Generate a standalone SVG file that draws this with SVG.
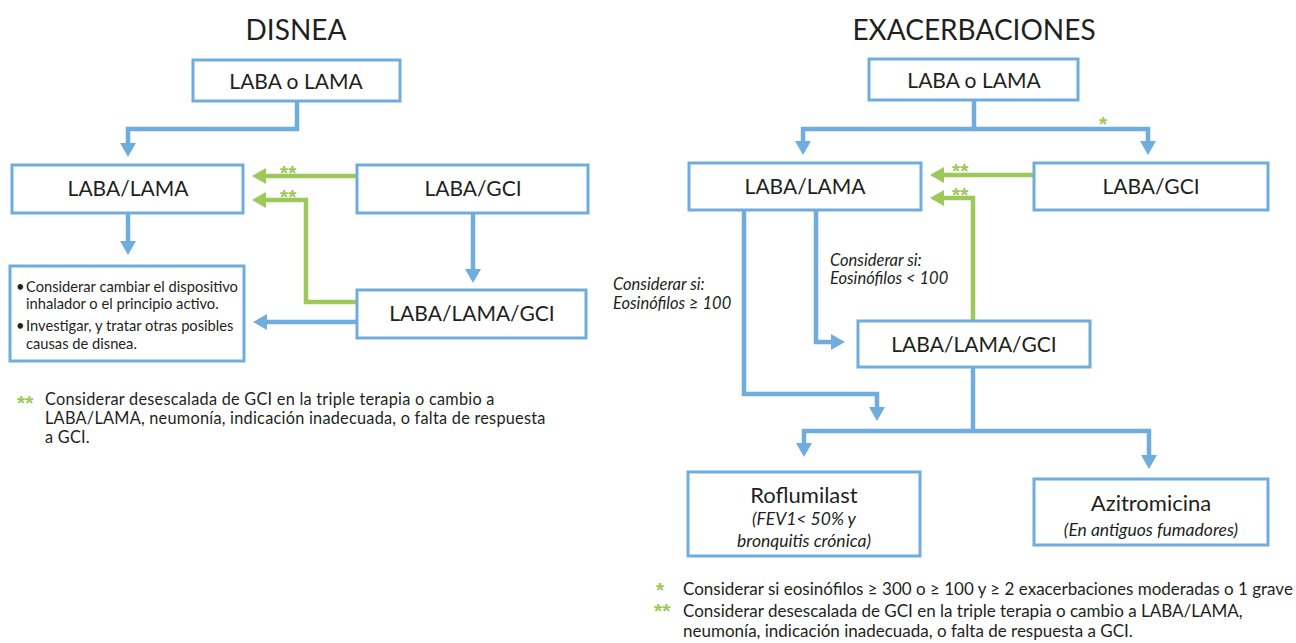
<svg xmlns="http://www.w3.org/2000/svg" width="1296" height="643" viewBox="0 0 1296 643">
<defs>
<style>
.box{fill:#fff;stroke:#6fadde;stroke-width:3}
.t{font-family:Lato,"Noto Sans","Liberation Sans",sans-serif;fill:#231f20}
.big{font-size:21px;text-anchor:middle}
.big2{font-size:22px;text-anchor:middle}
.title{font-size:28px;text-anchor:middle}
.it{font-style:italic;font-size:16.5px}
.it2{font-style:italic;font-size:17.5px;text-anchor:middle}
.sm{font-size:14.7px}
.fn{font-size:17px}
.fn2{font-size:16.3px;letter-spacing:0.25px}
.star{font-family:"Liberation Sans",Arial,sans-serif;font-weight:bold;fill:#9dc85a;font-size:21px}
.bl{fill:none;stroke:#6fadde;stroke-width:4.5}
.gr{fill:none;stroke:#9dc85a;stroke-width:4.5}
.ab{marker-end:url(#mb)}
.ag{marker-end:url(#mg)}
</style>
<marker id="mb" viewBox="0 0 14 16" refX="2" refY="8" markerWidth="14" markerHeight="16" markerUnits="userSpaceOnUse" orient="auto"><path d="M0,0 L14,8 L0,16 z" fill="#6fadde"/></marker>
<marker id="mg" viewBox="0 0 14 16" refX="2" refY="8" markerWidth="14" markerHeight="16" markerUnits="userSpaceOnUse" orient="auto"><path d="M0,0 L14,8 L0,16 z" fill="#9dc85a"/></marker>
</defs>
<rect width="1296" height="643" fill="#fff"/>

<text class="t title" x="296" y="40">DISNEA</text>
<text class="t title" x="974" y="40">EXACERBACIONES</text>

<g id="connectors">
<polyline class="bl ab" points="297,101 297,129 128,129 128,145"/>
<polyline class="bl ab" points="128,213 128,243"/>
<polyline class="gr ag" points="357,176 264,176"/>
<polyline class="gr ag" points="357,302 306,302 306,200 264,200"/>
<polyline class="bl ab" points="473,213 473,271"/>
<polyline class="bl ab" points="357,322 265,322"/>
<text class="star" x="280" y="180">**</text>
<text class="star" x="280" y="204">**</text>

<polyline class="bl ab" points="974,100 974,129 803,129 803,143"/>
<polyline class="bl ab" points="974,129 1148,129 1148,143"/>
<polyline class="gr ag" points="1034,175 942,175"/>
<polyline class="gr ag" points="973,320 973,198 942,198"/>
<polyline class="bl ab" points="744,210 744,394 877,394 877,409"/>
<polyline class="bl ab" points="816,210 816,342 833,342"/>
<polyline class="bl" points="973,367 973,431"/>
<polyline class="bl ab" points="973,431 804,431 804,445"/>
<polyline class="bl ab" points="973,431 1149,431 1149,457"/>
<text class="star" x="1099" y="131">*</text>
<text class="star" x="952" y="178">**</text>
<text class="star" x="952" y="202">**</text>
<text class="t it" x="613" y="290">Considerar si:</text>
<text class="t it" x="613" y="309">Eosinófilos ≥ 100</text>
<text class="t it" x="830" y="266">Considerar si:</text>
<text class="t it" x="830" y="284">Eosinófilos &lt; 100</text>
</g>

<g id="d-laba-o-lama"><rect class="box" x="193" y="60" width="207" height="41"/><text class="t big" x="296" y="89">LABA o LAMA</text></g>
<g id="d-laba-lama"><rect class="box" x="12" y="165" width="231" height="48"/><text class="t big" x="128" y="196">LABA/LAMA</text></g>
<g id="d-laba-gci"><rect class="box" x="357" y="165" width="231" height="48"/><text class="t big" x="473" y="196">LABA/GCI</text></g>
<g id="d-triple"><rect class="box" x="357" y="290" width="229" height="48"/><text class="t big" x="472" y="321">LABA/LAMA/GCI</text></g>
<g id="d-actions"><rect class="box" x="10" y="266" width="234" height="95"/>
<text class="t sm" x="16" y="292">•</text><text class="t sm" x="26" y="292">Considerar cambiar el dispositivo</text>
<text class="t sm" x="26" y="309">inhalador o el principio activo.</text>
<text class="t sm" x="16" y="331">•</text><text class="t sm" x="26" y="331">Investigar, y tratar otras posibles</text>
<text class="t sm" x="26" y="349">causas de disnea.</text>
</g>
<g id="d-footnote">
<text class="star" x="17" y="410">**</text>
<text class="t fn2" x="45" y="405">Considerar desescalada de GCI en la triple terapia o cambio a</text>
<text class="t fn2" x="45" y="424">LABA/LAMA, neumonía, indicación inadecuada, o falta de respuesta</text>
<text class="t fn2" x="45" y="443">a GCI.</text>
</g>

<g id="e-laba-o-lama"><rect class="box" x="869" y="59" width="209" height="41"/><text class="t big" x="974" y="88">LABA o LAMA</text></g>
<g id="e-laba-lama"><rect class="box" x="689" y="163" width="232" height="47"/><text class="t big" x="805" y="194">LABA/LAMA</text></g>
<g id="e-laba-gci"><rect class="box" x="1034" y="163" width="234" height="47"/><text class="t big" x="1151" y="194">LABA/GCI</text></g>
<g id="e-triple"><rect class="box" x="858" y="321" width="232" height="46"/><text class="t big" x="974" y="352">LABA/LAMA/GCI</text></g>
<g id="e-roflumilast"><rect class="box" x="688" y="472" width="232" height="84"/><text class="t big2" x="804" y="503">Roflumilast</text><text class="t it2" x="804" y="525">(FEV1&lt; 50% y</text><text class="t it2" x="804" y="547">bronquitis crónica)</text></g>
<g id="e-azitromicina"><rect class="box" x="1034" y="479" width="234" height="66"/><text class="t big2" x="1151" y="511">Azitromicina</text><text class="t it2" x="1151" y="536">(En antiguos fumadores)</text></g>
<g id="e-footnotes">
<text class="star" x="656" y="597">*</text>
<text class="t fn" x="683" y="595">Considerar si eosinófilos ≥ 300 o ≥ 100 y ≥ 2 exacerbaciones moderadas o 1 grave</text>
<text class="star" x="654" y="618">**</text>
<text class="t fn" x="683" y="617">Considerar desescalada de GCI en la triple terapia o cambio a LABA/LAMA,</text>
<text class="t fn" x="683" y="637">neumonía, indicación inadecuada, o falta de respuesta a GCI.</text>
</g>
</svg>
